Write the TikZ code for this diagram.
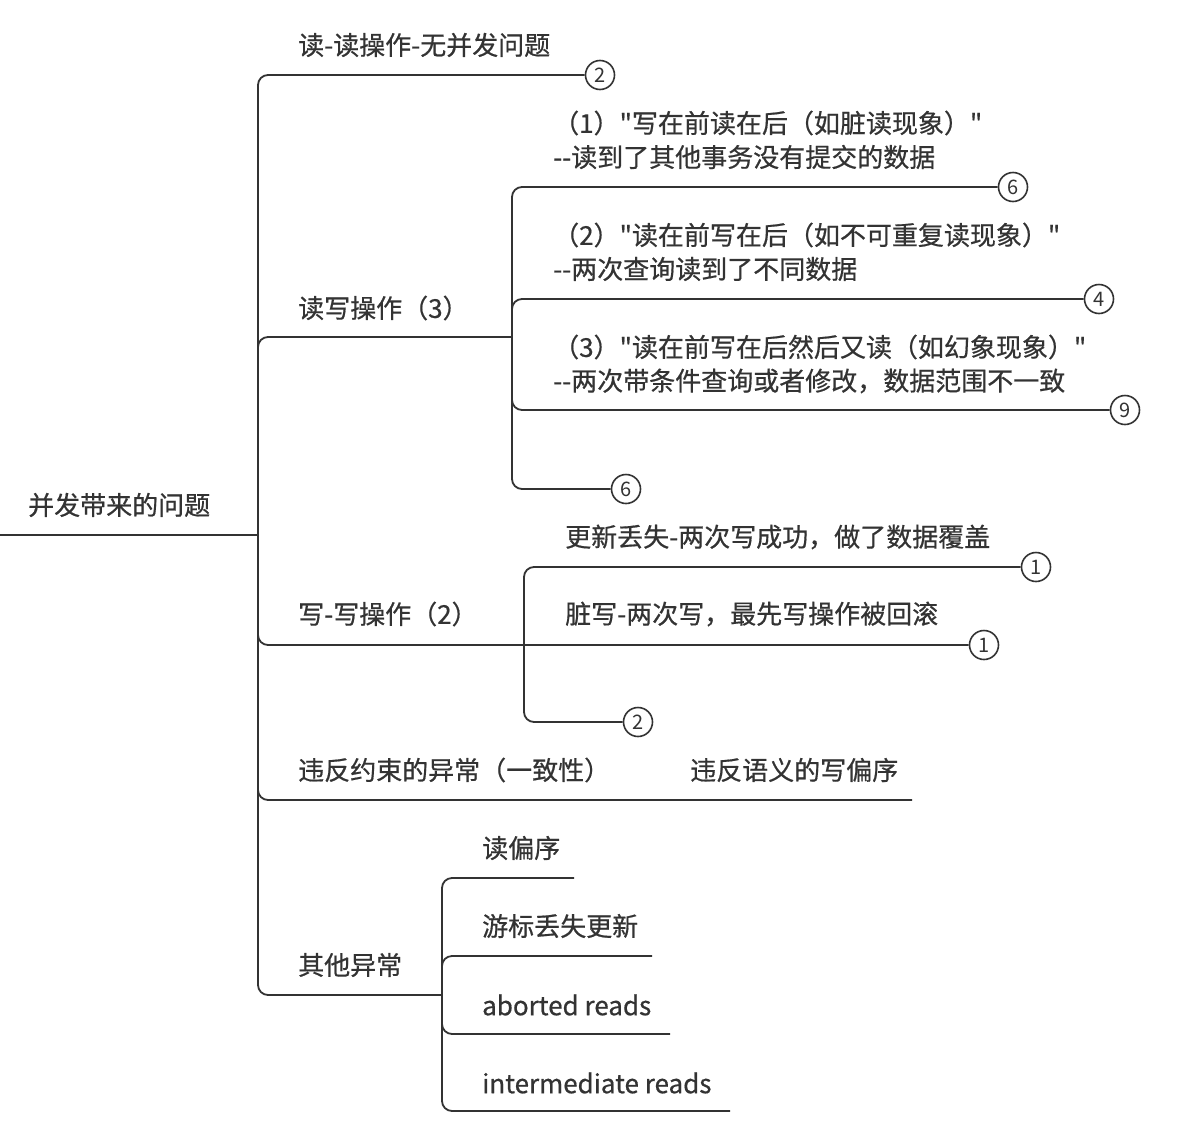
\documentclass[tikz,border=0pt]{standalone}
\usepackage{fontspec}
\setmainfont{Noto Sans CJK SC}[Ligatures=TeXOff,FakeBold=0.6]
\newfontfamily\numfont{Noto Sans CJK SC}
\begin{document}
\begin{tikzpicture}[x=1pt,y=-1pt,
  lbl/.style={anchor=west,inner sep=0pt,text=txt,font=\fontsize{26}{30}\selectfont},
  cnt/.style={draw=ln,line width=1.6pt,circle,minimum size=29pt,inner sep=0pt,fill=white,text=txt,font=\numfont\fontsize{20}{22}\selectfont},
  conn/.style={draw=ln,line width=1.8pt,rounded corners=10pt}]
\definecolor{ln}{HTML}{333333}
\definecolor{txt}{HTML}{333333}
\useasboundingbox (0,0) rectangle (1194,1130);
% root
\node[lbl] (root) at (28,505) {并发带来的问题};
\coordinate (rootL) at (0,535);
\coordinate (hub) at (258,535);
\draw[conn] (rootL) -- (hub);
% branch 1
\node[lbl] (b1) at (298,45) {读-读操作-无并发问题};
\node[cnt] (n1) at (600,75) {2};
\draw[conn] (hub) |- (n1.west);
% branch 2
\node[lbl] (b2) at (298,308) {读写操作（3）};
\coordinate (rwhub) at (512,337);
\draw[conn] (hub) |- (rwhub);
\node[lbl] (r1a) at (553,123) {（1）"写在前读在后（如脏读现象）"};
\node[lbl] (r1b) at (553,157) {--读到了其他事务没有提交的数据};
\node[cnt] (n2) at (1013,187) {6};
\draw[conn] (rwhub) |- (n2.west);
\node[lbl] (r2a) at (553,235) {（2）"读在前写在后（如不可重复读现象）"};
\node[lbl] (r2b) at (553,269) {--两次查询读到了不同数据};
\node[cnt] (n3) at (1099,299) {4};
\draw[conn] (rwhub) |- (n3.west);
\node[lbl] (r3a) at (553,347) {（3）"读在前写在后然后又读（如幻象现象）"};
\node[lbl] (r3b) at (553,381) {--两次带条件查询或者修改，数据范围不一致};
\node[cnt] (n4) at (1125,410) {9};
\draw[conn] (rwhub) |- (n4.west);
\node[cnt] (n5) at (626,489) {6};
\draw[conn] (rwhub) |- (n5.west);
% branch 3
\node[lbl] (b3) at (298,614) {写-写操作（2）};
\coordinate (wwhub) at (524,645);
\node[cnt] (n7) at (984,645) {1};
\draw[conn] (hub) |- (n7.west);
\node[lbl] (w1) at (565,537) {更新丢失-两次写成功，做了数据覆盖};
\node[cnt] (n6) at (1036,567) {1};
\draw[conn] (wwhub) |- (n6.west);
\node[lbl] (w2) at (565,614) {脏写-两次写，最先写操作被回滚};
\node[cnt] (n8) at (638,722) {2};
\draw[conn] (wwhub) |- (n8.west);
% branch 4
\node[lbl] (b4) at (298,770) {违反约束的异常（一致性）};
\node[lbl] (c1) at (690,770) {违反语义的写偏序};
\coordinate (e4) at (912,800);
\draw[conn] (hub) |- (e4);
% branch 5
\node[lbl] (b5) at (298,965) {其他异常};
\coordinate (ohub) at (442,995);
\draw[conn] (hub) |- (ohub);
\node[lbl] (o1) at (482,848) {读偏序};
\coordinate (e5a) at (574,878);
\draw[conn] (ohub) |- (e5a);
\node[lbl] (o2) at (482,926) {游标丢失更新};
\coordinate (e5b) at (652,956);
\draw[conn] (ohub) |- (e5b);
\node[lbl] (o3) at (482,1005) {aborted reads};
\coordinate (e5c) at (670,1034);
\draw[conn] (ohub) |- (e5c);
\node[lbl] (o4) at (482,1083) {intermediate reads};
\coordinate (e5d) at (730,1111);
\draw[conn] (ohub) |- (e5d);
\end{tikzpicture}
\end{document}
